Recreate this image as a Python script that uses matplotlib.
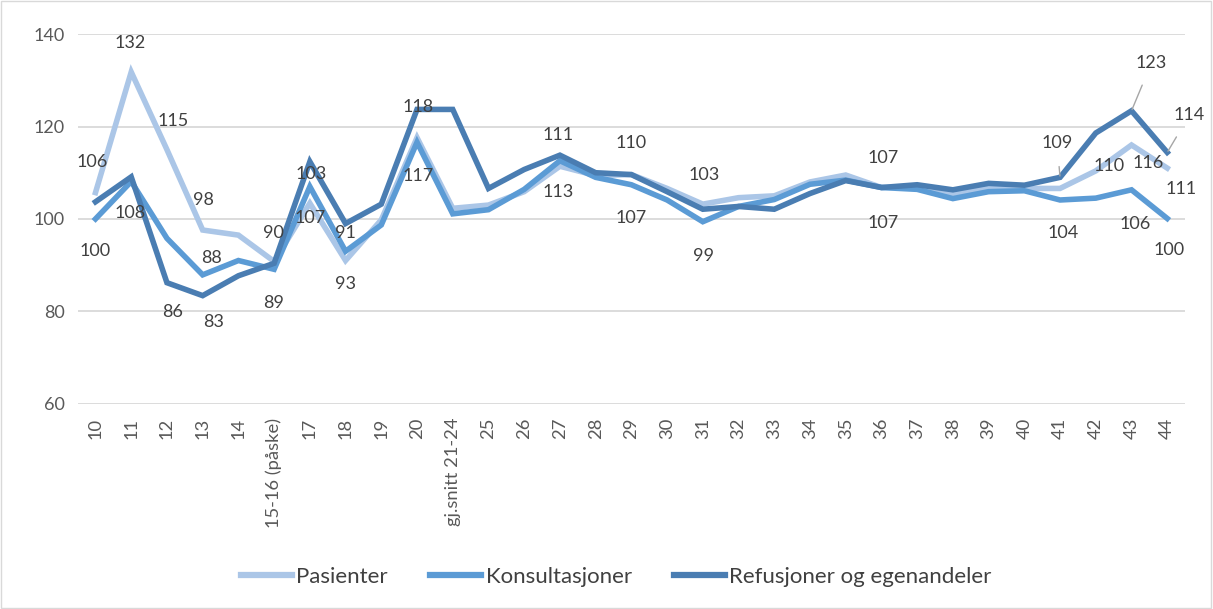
import matplotlib
matplotlib.use("Agg")
import matplotlib.pyplot as plt
from matplotlib.patches import Rectangle

plt.rcParams['font.family'] = ['Lato', 'DejaVu Sans']

# uke-kategorier
weeks = ["10", "11", "12", "13", "14", "15-16 (påske)", "17", "18", "19", "20",
         "gj.snitt 21-24", "25", "26", "27", "28", "29", "30", "31", "32", "33",
         "34", "35", "36", "37", "38", "39", "40", "41", "42", "43", "44"]

pasienter = [105.7, 131.8, 115.0, 97.6, 96.5, 90.8, 103.4, 91.0, 99.8, 117.6,
             102.3, 103.0, 105.9, 111.4, 109.4, 109.6, 106.6, 103.2, 104.6, 105.0,
             108.0, 109.5, 106.8, 107.0, 105.5, 106.8, 106.6, 106.6, 110.4, 116.0,
             111.0]
konsultasjoner = [100.0, 108.1, 95.8, 87.9, 91.0, 89.1, 107.0, 93.0, 98.7, 116.6,
                  101.1, 102.0, 106.4, 112.6, 109.0, 107.4, 104.1, 99.4, 102.7, 104.2,
                  107.5, 108.4, 106.8, 106.4, 104.4, 105.9, 106.1, 104.1, 104.5, 106.3,
                  100.1]
refusjoner = [103.7, 109.1, 86.2, 83.4, 87.7, 90.4, 112.4, 99.0, 103.2, 123.7,
              123.7, 106.6, 110.7, 113.8, 110.0, 109.6, 105.9, 102.1, 102.7, 102.1,
              105.5, 108.3, 106.8, 107.4, 106.3, 107.7, 107.3, 109.0, 118.6, 123.4,
              114.4]

# dataetiketter: (indeks, dx px, dy px)
pas_labels = [(0, -3, 31), (1, -1, 29), (2, 6, 29), (3, 1, 30), (6, 1, 29),
              (7, 0, 28), (9, 1, 31), (13, -2, 31), (15, 0, 32), (17, 1, 29),
              (22, 2, 30), (28, 13, 5), (29, 17, -18), (30, 14, -21)]
kons_labels = [(0, 0, -32), (1, -1, -31), (3, 9, 17), (5, -1, -34), (6, 0, -31),
               (7, 0, -33), (9, 1, -34), (13, -2, -31), (15, 0, -33), (17, 1, -34),
               (22, 2, -35), (27, 3, -33), (29, 4, -34), (30, 2, -32)]
ref_labels = [(2, 6, -29), (3, 11, -26), (5, -1, 30)]
ref_leader_labels = [(27, -3, 34), (29, 20, 48), (30, 22, 37)]

colors = {"Pasienter": "#abc6e7", "Konsultasjoner": "#5b9bd5",
          "Refusjoner og egenandeler": "#4a7db2"}
label_color = "#404040"


def main():
    fig = plt.figure(figsize=(12.13, 6.09), dpi=100)
    ax = fig.add_axes([0.064, 0.337, 0.913, 0.607])
    x = list(range(len(weeks)))

    series = [("Pasienter", pasienter, pas_labels),
              ("Konsultasjoner", konsultasjoner, kons_labels),
              ("Refusjoner og egenandeler", refusjoner, ref_labels)]
    for name, vals, labs in series:
        ax.plot(x, vals, color=colors[name], lw=4.0, label=name,
                solid_joinstyle='miter', zorder=3)
        for i, dx, dy in labs:
            ax.annotate(f"{round(vals[i])}", (i, vals[i]), xytext=(dx, dy),
                        textcoords='offset pixels', ha='center', va='center',
                        fontsize=13, color=label_color, zorder=5)

    for i, dx, dy in ref_leader_labels:
        ax.annotate(f"{round(refusjoner[i])}", (i, refusjoner[i]), xytext=(dx, dy),
                    textcoords='offset pixels', ha='center', va='center',
                    fontsize=13, color=label_color, zorder=5,
                    arrowprops=dict(arrowstyle='-', color='#a6a6a6', lw=1.0,
                                    shrinkA=9, shrinkB=1))

    ax.set_xlim(-0.5, len(weeks) - 0.5)
    ax.set_ylim(60, 140)
    ax.set_yticks([60, 80, 100, 120, 140])
    ax.set_xticks(x)
    ax.set_xticklabels(weeks, rotation=90, fontsize=13.2, color="#595959")
    ax.tick_params(axis='y', labelsize=13, labelcolor="#595959", length=0, pad=9)
    ax.tick_params(axis='x', length=0, pad=10)
    ax.grid(True, axis='y', color="#d9d9d9", lw=1.3, zorder=0)
    for s in ax.spines.values():
        s.set_visible(False)

    leg = fig.legend(loc='center', bbox_to_anchor=(0.508, 0.053), ncol=3, frameon=False,
                     fontsize=16, handlelength=2.3, handletextpad=0.2,
                     columnspacing=1.9, labelcolor="#404040")
    for h in leg.get_lines():
        h.set_linewidth(4.5)

    fig.patches.append(Rectangle((0.001, 0.002), 0.997, 0.996, transform=fig.transFigure,
                                 fill=False, edgecolor="#d9d9d9", lw=1.0))

    plt.savefig("out.png", dpi=100)


if __name__ == '__main__':
    main()
